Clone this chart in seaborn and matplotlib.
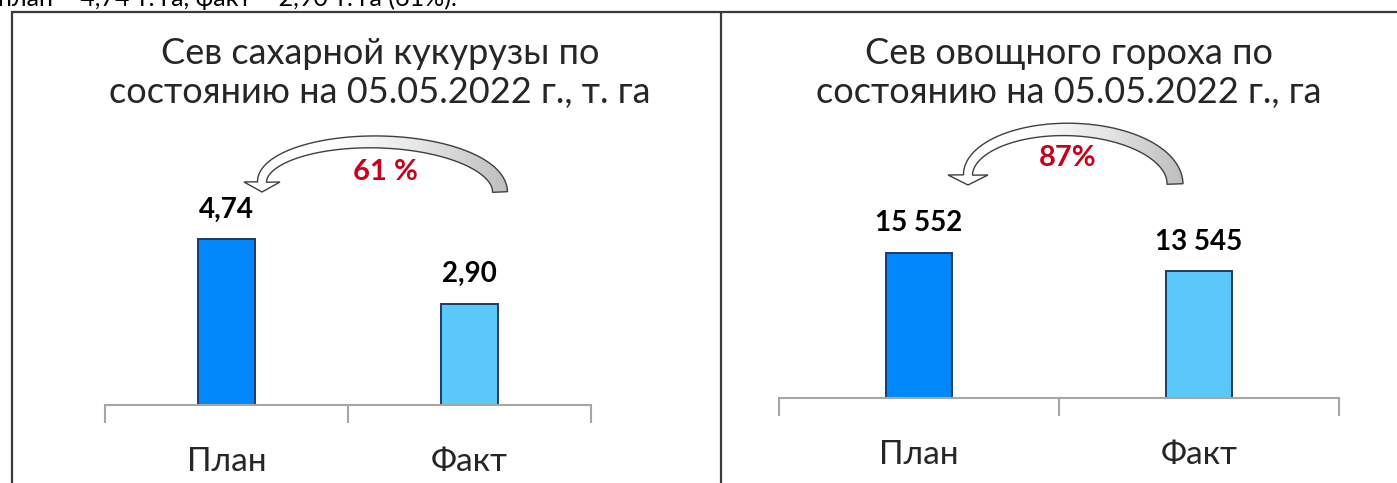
import numpy as np
import matplotlib.pyplot as plt
import seaborn as sns
from matplotlib.path import Path
from matplotlib.patches import PathPatch
from matplotlib.colors import LinearSegmentedColormap

# -------------------------
# Data
# -------------------------
categories = ["План", "Факт"]
corn_values = [4.74, 2.90]
peas_values = [15552, 13545]
corn_title = "Сев сахарной кукурузы по\nсостоянию на 05.05.2022 г., т. га"
peas_title = "Сев овощного гороха по\nсостоянию на 05.05.2022 г., га"
top_note = "план – 4,74 т. га, факт – 2,90 т. га (61%)."
bar_colors = ["#0088FA", "#5AC8F8"]

W, H = 1397, 483

sns.set_style("white")
plt.rcParams['font.family'] = ['Lato', 'DejaVu Sans']

fig = plt.figure(figsize=(W / 100, H / 100), dpi=100)


def px_axes(x0, x1, y_base, y_top):
    # axes rectangle given in pixel coordinates (y measured from top)
    return fig.add_axes([x0 / W, (H - y_base) / H, (x1 - x0) / W, (y_base - y_top) / H])


def draw_bars(ax, values, ymax, fmt):
    sns.barplot(x=categories, y=values, hue=categories, palette=bar_colors, saturation=1,
                width=0.235, edgecolor="#1F3A68", linewidth=1.4, legend=False, ax=ax)
    ax.set_xlim(-0.5, 1.5)
    ax.set_ylim(0, ymax)
    for cont, v in zip(ax.containers, values):
        ax.bar_label(cont, labels=[fmt(v)], padding=12, fontsize=20,
                     fontweight="bold", color="black")
    ax.set_xticks([0, 1], labels=categories)
    ax.set_xticks([-0.5, 0.5, 1.5], minor=True)
    ax.tick_params(axis="x", which="major", bottom=False, length=0, pad=30, labelsize=24)
    ax.tick_params(axis="x", which="minor", bottom=True, length=13, width=1.5,
                   color="#A6A6A6", direction="out")
    ax.set_yticks([])
    ax.set_xlabel("")
    ax.set_ylabel("")
    for s in ["left", "top", "right"]:
        ax.spines[s].set_visible(False)
    ax.spines["bottom"].set_color("#A6A6A6")
    ax.spines["bottom"].set_linewidth(1.5)
    ax.set_facecolor("none")


# left panel: sweet corn
ax1 = px_axes(105, 591, 405, 195)
draw_bars(ax1, corn_values, 6.0, lambda v: f"{v:.2f}".replace(".", ","))

# right panel: peas
ax2 = px_axes(779, 1339, 398, 211)
draw_bars(ax2, peas_values, 20000, lambda v: f"{v:,}".replace(",", " "))

# -------------------------
# Overlay for frame, titles and arrows (pixel coordinates)
# -------------------------
ov = fig.add_axes([0, 0, 1, 1])
ov.set_xlim(0, W)
ov.set_ylim(H, 0)
ov.axis("off")

frame = "#3A3A3A"
ov.plot([12, W], [12, 12], color=frame, lw=1.6)
ov.plot([12, 12], [12, H], color=frame, lw=1.6)
ov.plot([721, 721], [12, H], color=frame, lw=1.6)

# sentence above the frame, only its lower part is visible in the picture
ov.text(-2, 6, top_note, fontsize=18, va="baseline", ha="left", color="black")

ov.text(380, 73, corn_title, fontsize=26, ha="center", va="center", linespacing=1.25)
ov.text(1069, 73, peas_title, fontsize=26, ha="center", va="center", linespacing=1.25)

grad_cmap = LinearSegmentedColormap.from_list("g", ["white", "white", "#E6E6E6", "#BDBDBD"])


def curved_arrow(x_right, x_tip, y_right, y_left, rise, w_right, w_left, head_w, head_len):
    t = np.linspace(0, np.pi, 90)
    cx = (x_right + x_tip) / 2
    a = (x_right - x_tip) / 2
    y0 = y_right + (y_left - y_right) * t / np.pi
    w = w_right + (w_left - w_right) * t / np.pi
    xc = cx + a * np.cos(t)
    yc = y0 - rise * np.sin(t)
    dx = np.gradient(xc)
    dy = np.gradient(yc)
    n = np.hypot(dx, dy)
    nx, ny = -dy / n, dx / n
    side_a = np.column_stack([xc + nx * w / 2, yc + ny * w / 2])
    side_b = np.column_stack([xc - nx * w / 2, yc - ny * w / 2])
    sgn = 1 if side_a[-1, 0] > x_tip else -1
    head = np.array([[x_tip + sgn * head_w / 2, y_left],
                     [x_tip, y_left + head_len],
                     [x_tip - sgn * head_w / 2, y_left]])
    pts = np.vstack([side_a, head, side_b[::-1], side_a[:1]])
    path = Path(pts, closed=True)
    patch = PathPatch(path, facecolor="none", edgecolor="#3F3F3F", lw=1.0, zorder=3)
    ov.add_patch(patch)
    grad = np.linspace(0, 1, 256).reshape(1, -1)
    x0 = x_tip - head_w / 2 - 2
    x1 = x_right + w_right / 2 + 2
    im = ov.imshow(grad, cmap=grad_cmap, extent=(x0, x1, y_right + head_len + 5, y_right - rise - 20),
                   aspect="auto", zorder=2)
    im.set_clip_path(patch)


curved_arrow(500, 262, 192, 182, 45, 15, 9, 36, 10)
curved_arrow(1175, 968, 184, 175, 50, 16, 9, 40, 10)
ov.set_xlim(0, W)
ov.set_ylim(H, 0)

# percentages from the data
corn_pct = round(corn_values[1] / corn_values[0] * 100)
peas_pct = round(peas_values[1] / peas_values[0] * 100)
ov.text(385, 172, f"{corn_pct} %", fontsize=21, fontweight="bold", color="#C8001E",
        ha="center", va="center")
ov.text(1068, 158, f"{peas_pct}%", fontsize=21, fontweight="bold", color="#C8001E",
        ha="center", va="center")

fig.savefig("out.png", dpi=100, facecolor="white")
